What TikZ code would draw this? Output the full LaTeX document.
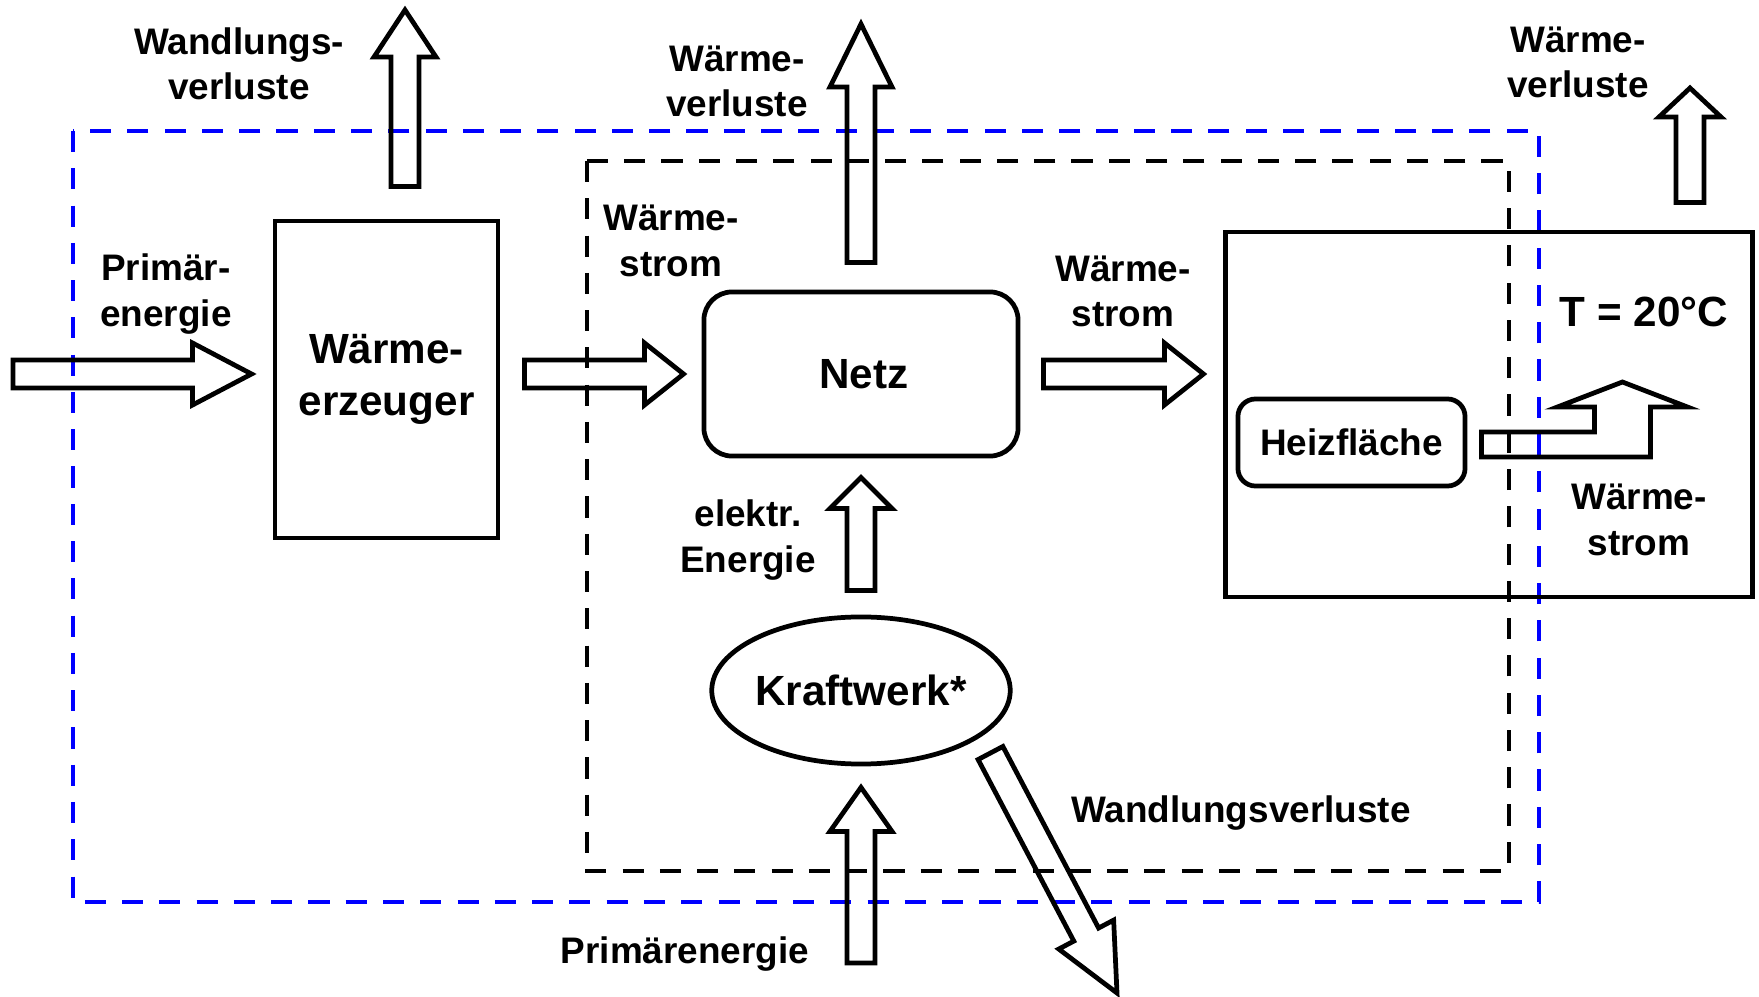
\documentclass[tikz,border=0pt]{standalone}
\usepackage{fontspec}
\setmainfont{Liberation Sans}
\usepackage{xcolor}
\usepackage{tikz}
\usetikzlibrary{calc,shapes.geometric}

\newcommand{\lblfont}{\fontsize{10.5}{12.95}\selectfont\bfseries}
\newcommand{\boxfont}{\fontsize{12}{14.8}\selectfont\bfseries}
\newcommand{\blockarrow}[3][0.45cm]{%
  \path ($#3!#1!#2$) coordinate (neck);
  \draw[flow] ($#2!0.14cm!90:#3$) -- ($(neck)!0.14cm!90:#3$)
    -- ($(neck)!0.31cm!90:#3$) -- #3 -- ($(neck)!0.31cm!-90:#3$)
    -- ($(neck)!0.14cm!-90:#3$) -- ($#2!0.14cm!-90:#3$) -- cycle;
}

\begin{document}
\begin{tikzpicture}[x=0.01cm, y=-0.01cm,
    box/.style={draw, line width=1.35pt, font=\boxfont, align=center, inner sep=0pt},
    lbl/.style={font=\lblfont, align=center},
    flow/.style={line width=1.35pt, line join=miter},
    sysframe/.style={line width=1.35pt, dash pattern=on 6pt off 4.6pt}]
    \useasboundingbox (0,0) rectangle (1759,997);
    \draw[sysframe, blue] (73,131) rectangle (1539,902);
    \draw[sysframe] (587,161) rectangle (1509,871);
    \node[box, minimum width=2.23cm, minimum height=3.17cm] (werz) at (386.5,379.5) {Wärme-\\erzeuger\vphantom{(}};
    \node[box, rounded corners=8pt, minimum width=3.14cm, minimum height=1.64cm] (netz) at (861,374) {\hspace{0.06cm}Netz};
    \node[box, minimum width=5.26cm, minimum height=3.65cm] (raum) at (1489,414.5) {};
    \node[box, font=\lblfont, rounded corners=5pt, minimum width=2.27cm, minimum height=0.87cm] (heiz) at (1351.5,442.5) {Heizfläche};
    \node[box, ellipse, minimum width=2.98cm, minimum height=1.47cm] (kraft) at (861,690.5) {Kraftwerk*};
    \node[box, draw=none] (temp) at (1644,312) {T = 20°C};
    \node[lbl] (wvl-a) at (239,64) {Wandlungs-\\verluste};
    \node[lbl] (pe-a) at (166,294) {Primär-\\energie};
    \node[lbl] (wv-a) at (737,81.5) {Wärme-\\verluste};
    \node[lbl] (ws-a) at (671,241) {Wärme-\\strom};
    \node[lbl] (ws-b) at (1123,291.5) {Wärme-\\strom};
    \node[lbl] (wv-b) at (1578,62.5) {Wärme-\\verluste};
    \node[lbl] (ws-c) at (1639,520) {Wärme-\\strom};
    \node[lbl] (el-a) at (748,540) {elektr.\\Energie};
    \node[lbl] (wvl-b) at (1241,813.5) {Wandlungsverluste};
    \node[lbl] (pe-b) at (685,954.5) {Primärenergie};
    \coordinate (pe-tail) at (13,374);
    \coordinate (pe-tip) at ($(werz.west |- netz.west)+(-21,0)$);
    \coordinate (wq-tail) at ($(werz.east |- netz.west)+(24,0)$);
    \coordinate (wq-tip) at ($(netz.west)+(-18,0)$);
    \coordinate (nr-tail) at ($(netz.east)+(23,0)$);
    \coordinate (nr-tip) at ($(raum.west |- netz.east)+(-20,0)$);
    \coordinate (wu-tail) at ($(werz.north)+(18.5,-32)$);
    \coordinate (wu-tip) at (405,10);
    \coordinate (nu-tail) at ($(netz.north)+(0,-27)$);
    \coordinate (nu-tip) at (861,24);
    \coordinate (el-tail) at ($(kraft.north)+(0,-24)$);
    \coordinate (el-tip) at ($(netz.south)+(0,19)$);
    \coordinate (kp-tail) at (861,963);
    \coordinate (kp-tip) at ($(kraft.south)+(0,21)$);
    \coordinate (ru-tail) at ($(raum.north)+(201,-27)$);
    \coordinate (ru-tip) at (1690,88);
    \coordinate (kv-tail) at (990.5,753);
    \coordinate (kv-tip) at (1117,993);
    \blockarrow[0.59cm]{(pe-tail)}{(pe-tip)}
    \blockarrow[0.39cm]{(wq-tail)}{(wq-tip)}
    \blockarrow[0.39cm]{(nr-tail)}{(nr-tip)}
    \blockarrow[0.47cm]{(wu-tail)}{(wu-tip)}
    \blockarrow[0.63cm]{(nu-tail)}{(nu-tip)}
    \blockarrow[0.31cm]{(el-tail)}{(el-tip)}
    \blockarrow[0.44cm]{(kp-tail)}{(kp-tip)}
    \blockarrow[0.29cm]{(ru-tail)}{(ru-tip)}
    \blockarrow[0.66cm]{(kv-tail)}{(kv-tip)}
    \draw[flow] ($(heiz.east)+(14,-10.5)$) -- ++(113,0) -- ++(0,-25) -- ++(-37,0) -- ++(65,-25)
        -- ++(65,25) -- ++(-37,0) -- ++(0,50) -- ++(-169,0) -- cycle;
\end{tikzpicture}
\end{document}
